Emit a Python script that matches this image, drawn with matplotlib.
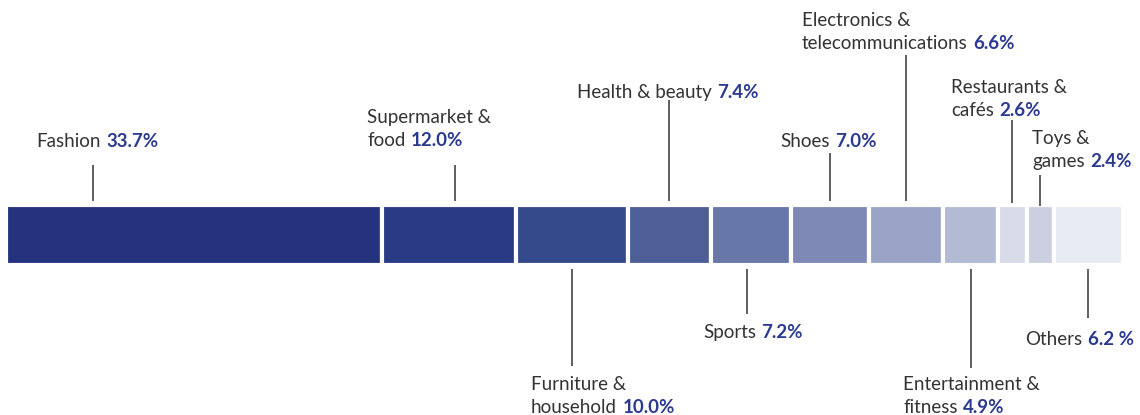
import matplotlib.pyplot as plt
import numpy as np

plt.rcParams['font.family'] = ['Lato', 'DejaVu Sans']

categories = ['Fashion', 'Supermarket &\nfood', 'Furniture &\nhousehold', 'Health & beauty',
              'Sports', 'Shoes', 'Electronics &\ntelecommunications', 'Entertainment &\nfitness',
              'Restaurants &\ncafés', 'Toys &\ngames', 'Others']
shares = [33.7, 12.0, 10.0, 7.4, 7.2, 7.0, 6.6, 4.9, 2.6, 2.4, 6.2]
pct_labels = ['33.7%', '12.0%', '10.0%', '7.4%', '7.2%', '7.0%', '6.6%', '4.9%', '2.6%', '2.4%', '6.2 %']

colors = ['#25327e', '#2a3a85', '#344a8a', '#4e5f98', '#6677a8', '#7e8ab5',
          '#99a4c6', '#b3bad4', '#d9dce8', '#cbd0e1', '#e8eaf4']

# layout (pixels): label left x, first baseline y, leader top/bottom y, leader x shift
label_pos = [(36, 147), (367, 123), (531, 390), (577, 98), (703, 338), (780, 147),
             (802, 26), (903, 390), (951, 93), (1032, 144), (1025, 345)]
leader_y = [(165, 201), (165, 201), (269, 366), (100, 201), (269, 314), (153, 201),
            (55, 201), (269, 368), (120, 203), (175, 206), (269, 318)]
leader_shift = [-9.1, 0.5, 0, 0, -0.4, 0, 0, 0, 0, 0, 0]

W, H = 1140, 415
x0, scale = 6, 11.17  # px offset, px per percent

fig = plt.figure(figsize=(W / 100, H / 100), dpi=100)
ax = fig.add_axes([0, 0, 1, 1])
ax.set_xlim(-x0 / scale, (W - x0) / scale)
ax.set_ylim(H, 0)
ax.axis('off')

lefts = np.concatenate([[0], np.cumsum(shares)[:-1]])
ax.barh(235, shares, left=lefts, height=60, color=colors,
        edgecolor='white', linewidth=3)

centers = lefts + np.array(shares) / 2 + np.array(leader_shift)
for c, (y1, y2) in zip(centers, leader_y):
    ax.plot([c, c], [y1, y2], color='#333333', lw=1.1, solid_capstyle='butt')


def px(x):
    return (x - x0) / scale


for cat, pct, (lx, ly) in zip(categories, pct_labels, label_pos):
    lines = cat.split('\n')
    for i, line in enumerate(lines):
        t = ax.text(px(lx), ly + 23 * i, line, fontsize=13.5, color='#333333',
                    fontweight='normal', va='baseline', ha='left')
    ax.annotate(pct, xy=(1, 0), xycoords=t, xytext=(4, 0), textcoords='offset points',
                fontsize=13.5, color='#2b3990', fontweight='bold', va='bottom', ha='left')

fig.savefig('out.png', dpi=100)
